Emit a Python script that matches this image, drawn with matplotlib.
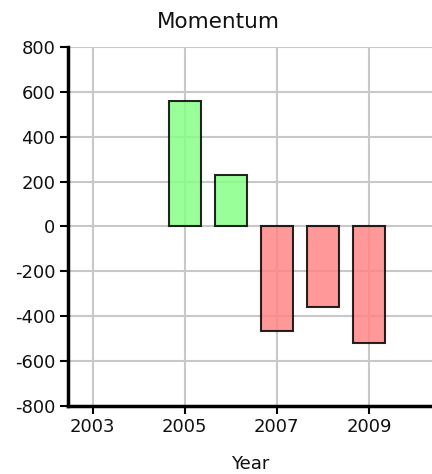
import matplotlib
matplotlib.use("Agg")
import matplotlib.pyplot as plt

plt.rcParams['axes.unicode_minus'] = False

years = [2005, 2006, 2007, 2008, 2009]
momentum = [560, 228, -464, -357, -518]
xticks = [2003, 2005, 2007, 2009]
yticks = [-800, -600, -400, -200, 0, 200, 400, 600, 800]

fig = plt.figure(figsize=(4.32, 4.74), dpi=100)
ax = fig.add_axes([0.157, 0.1435, 0.843, 0.7575])

colors = ['#87ff87' if v >= 0 else '#ff8787' for v in momentum]
ax.bar(years, momentum, width=0.7, color=colors, edgecolor='black',
       linewidth=1.5, alpha=0.85, zorder=1)

ax.set_xlim(2002.46, 2010.37)
ax.set_ylim(-800, 800)
ax.set_xticks(xticks)
ax.set_yticks(yticks)
ax.grid(True, color='#c8c8c8', linewidth=1.5, zorder=0)
ax.set_axisbelow(True)

for s in ['top', 'right']:
    ax.spines[s].set_visible(False)
for s in ['left', 'bottom']:
    ax.spines[s].set_linewidth(2.5)
    ax.spines[s].set_color('black')
ax.tick_params(axis='both', direction='out', length=6, width=1.5,
               labelsize=13, pad=3, labelcolor='#111111')

ax.set_xlabel('Year', fontsize=13, labelpad=13, color='#111111')
fig.text(0.505, 0.975, 'Momentum', ha='center', va='top', fontsize=15.5,
         color='#111111')

fig.savefig('out.png', dpi=100)
